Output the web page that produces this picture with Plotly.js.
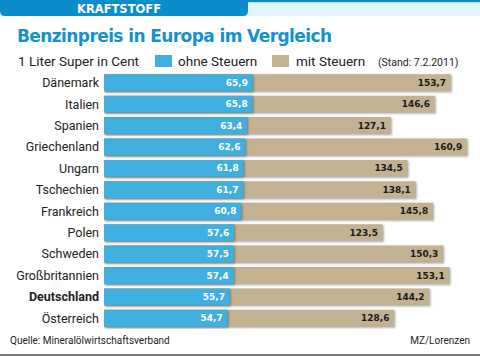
<!DOCTYPE html>
<html><head><meta charset="utf-8">
<script src="https://cdn.plot.ly/plotly-3.0.1.min.js"></script>
<style>
html,body{margin:0;padding:0;background:#fff;}
#chart{width:480px;height:356px;}
#chart .bars path{filter:drop-shadow(1.5px 1.5px 1px rgba(0,0,0,0.35));}
</style>
</head><body>
<div id="chart"></div>
<script>
const countries = ["Dänemark","Italien","Spanien","Griechenland","Ungarn","Tschechien","Frankreich","Polen","Schweden","Großbritannien","Deutschland","Österreich"];
const ohneSteuern = [65.9,65.8,63.4,62.6,61.8,61.7,60.8,57.6,57.5,57.4,55.7,54.7];
const mitSteuern = [153.7,146.6,127.1,160.9,134.5,138.1,145.8,123.5,150.3,153.1,144.2,128.6];
const tickLabels = countries.map(c => c === "Deutschland" ? "<b>Deutschland</b>" : c);

const fmt = v => v.toFixed(1).replace('.', ',') + '\u2009';
const BLUE = '#3fafe0', BROWN = '#c3b291';

const traces = [
  {type:'bar', orientation:'h', name:'mit Steuern', y:countries, x:mitSteuern,
   marker:{color:BROWN}, text:mitSteuern.map(fmt), textposition:'inside', insidetextanchor:'end',
   textfont:{family:'DejaVu Sans', size:11.5, color:'#1a1a1a', weight:'bold'}, cliponaxis:false, hoverinfo:'none'},
  {type:'bar', orientation:'h', name:'ohne Steuern', y:countries, x:ohneSteuern,
   marker:{color:BLUE}, text:ohneSteuern.map(fmt), textposition:'inside', insidetextanchor:'end',
   textfont:{family:'DejaVu Sans', size:11.5, color:'#ffffff', weight:'bold'}, cliponaxis:false, hoverinfo:'none'}
];

const layout = {
  width:480, height:356,
  margin:{l:104, r:10, t:72, b:27},
  paper_bgcolor:'#fff', plot_bgcolor:'#fff',
  barmode:'overlay', bargap:0.21, showlegend:false,
  font:{family:'Roboto, Liberation Sans, sans-serif', color:'#222'},
  xaxis:{range:[0,162.2], visible:false, fixedrange:true},
  yaxis:{type:'category', autorange:'reversed', tickvals:countries, ticktext:tickLabels,
         showgrid:false, zeroline:false, showline:false, ticks:'', ticklabelstandoff:4,
         tickfont:{family:'Roboto, sans-serif', size:12.5, color:'#222'}}
};

Plotly.newPlot('chart', traces, layout, {displayModeBar:false, staticPlot:true}).then(() => {
  const svg = document.querySelector('#chart .main-svg:last-of-type');
  const ns = 'http://www.w3.org/2000/svg';
  const g = document.createElementNS(ns, 'g');
  const add = (tag, attrs, txt) => {
    const e = document.createElementNS(ns, tag);
    for (const k in attrs) e.setAttribute(k, attrs[k]);
    if (txt !== undefined) e.textContent = txt;
    g.appendChild(e); return e;
  };
  add('rect', {x:248, y:2, width:232, height:14, fill:'#e1f5fd'});
  add('rect', {x:0, y:0, width:480, height:2.2, fill:'#0b8ccd'});
  add('path', {d:'M0,0 H248 V11 Q248,16 243,16 H5 Q0,16 0,11 Z', fill:'#0b8ccd'});
  add('text', {x:119, y:13, 'text-anchor':'middle', fill:'#fff', 'font-family':'DejaVu Sans', 'font-weight':'bold', 'font-size':'11.5px'}, 'KRAFTSTOFF');
  add('text', {x:17, y:42, fill:'#1590d0', 'font-family':'DejaVu Sans', 'font-weight':'bold', 'font-size':'17px', textLength:315}, 'Benzinpreis in Europa im Vergleich');
  add('text', {x:18, y:66, fill:'#222', 'font-family':'Roboto', 'font-size':'13.5px'}, '1 Liter Super in Cent');
  add('rect', {x:155, y:55, width:17, height:12, fill:BLUE});
  add('text', {x:178, y:66, fill:'#222', 'font-family':'Roboto', 'font-size':'13.5px'}, 'ohne Steuern');
  add('rect', {x:272, y:55, width:17, height:12, fill:BROWN});
  add('text', {x:296, y:66, fill:'#222', 'font-family':'Roboto', 'font-size':'13.5px'}, 'mit Steuern');
  add('text', {x:378, y:66, fill:'#222', 'font-family':'Roboto', 'font-size':'10.5px'}, '(Stand: 7.2.2011)');
  add('text', {x:10, y:344, fill:'#222', 'font-family':'Roboto', 'font-size':'10px'}, 'Quelle: Mineralölwirtschaftsverband');
  add('text', {x:470, y:344, 'text-anchor':'end', fill:'#222', 'font-family':'Roboto', 'font-size':'10px'}, 'MZ/Lorenzen');
  add('rect', {x:0, y:354, width:480, height:2, fill:'#777'});
  svg.appendChild(g);
});
</script>
</body></html>
